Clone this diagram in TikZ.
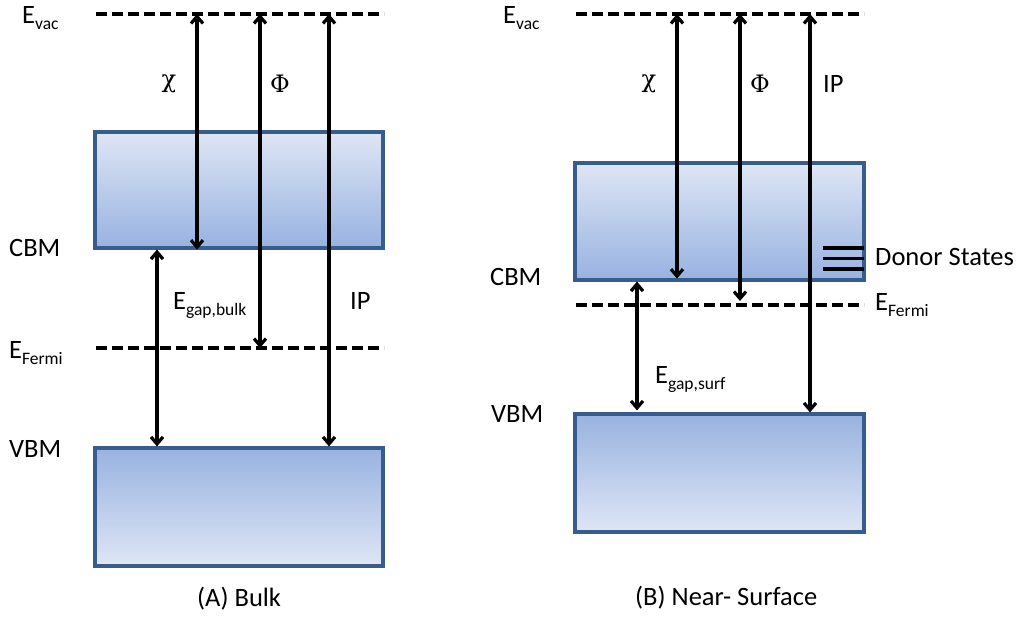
\documentclass[tikz,border=0pt]{standalone}
\usepackage{fontspec}
\setmainfont{Carlito}
\newfontfamily\greekfont{DejaVu Serif}
\usetikzlibrary{arrows.meta}
\definecolor{bandtop}{RGB}{222,230,245}
\definecolor{bandbot}{RGB}{152,178,224}
\definecolor{bandedge}{RGB}{56,92,140}
\newcommand{\sbs}[1]{\raisebox{-6pt}{\fontsize{17.5}{17.5}\selectfont #1}}
\begin{document}
\begin{tikzpicture}[x=1pt,y=-1pt,
  lbl/.style={inner sep=0pt,anchor=base west,font=\fontsize{26.5}{30}\selectfont},
  grk/.style={inner sep=0pt,anchor=center,font=\greekfont\fontsize{24}{28}\selectfont},
  cband/.style={draw=bandedge,line width=3.2pt,top color=bandtop,bottom color=bandbot,minimum width=288pt,inner sep=0pt},
  vband/.style={draw=bandedge,line width=3.2pt,top color=bandbot,bottom color=bandtop,minimum width=288pt,inner sep=0pt},
  level/.style={line width=3.2pt,dash pattern=on 10.5pt off 5.5pt},
  arr/.style={line width=3.2pt,{Straight Barb[length=7pt,width=12pt]}-{Straight Barb[length=7pt,width=12pt]}},
  donor/.style={line width=3.2pt}
]
\useasboundingbox (0,0) rectangle (1018,622);

% ---------------- Panel A ----------------
\node[cband,minimum height=116pt] (cbA) at (239,190) {};
\node[vband,minimum height=118pt] (vbA) at (239,507) {};
\coordinate (evacAw) at (96,14);  \coordinate (evacAe) at (384,14);
\coordinate (fermAw) at (96,348); \coordinate (fermAe) at (384,348);
\draw[level] (evacAw) -- (evacAe);
\draw[level] (fermAw) -- (fermAe);
\coordinate (xgA) at (157,0);
\coordinate (xcA) at (197,0);
\coordinate (xpA) at (260,0);
\coordinate (xiA) at (329,0);
\draw[arr] (xcA |- cbA.south) -- (xcA |- evacAw);
\draw[arr] (xpA |- fermAw) -- (xpA |- evacAw);
\draw[arr] (xiA |- vbA.north) -- (xiA |- evacAw);
\draw[arr] (xgA |- cbA.south) -- (xgA |- vbA.north);

\node[lbl] (evacAl) at (22,23) {E\sbs{vac}};
\node[lbl] (cbmAl) at (9,256) {CBM};
\node[lbl] (fermAl) at (9,358) {E\sbs{Fermi}};
\node[lbl] (vbmAl) at (9,457) {VBM};
\node[grk] (chiA) at (169,84) {χ};
\node[grk] (phiA) at (280,84) {Φ};
\node[lbl] (egA) at (173,309) {E\sbs{gap,bulk}};
\node[lbl] (ipA) at (350,309) {IP};
\node[lbl] (capA) at (197,606) {(A) Bulk};

% ---------------- Panel B ----------------
\node[cband,minimum height=117pt,minimum width=289pt] (cbB) at (719.5,221.5) {};
\node[vband,minimum height=118pt,minimum width=289pt] (vbB) at (719.5,473) {};
\coordinate (evacBw) at (576,14);  \coordinate (evacBe) at (864,14);
\coordinate (fermBw) at (576,305); \coordinate (fermBe) at (864,305);
\draw[level] (evacBw) -- (evacBe);
\draw[level] (fermBw) -- (fermBe);
\foreach \yy in {248,258.5,269} \draw[donor] (823,\yy) -- (864,\yy);
\coordinate (xgB) at (637,0);
\coordinate (xcB) at (677,0);
\coordinate (xpB) at (740,0);
\coordinate (xiB) at (810,0);
\draw[arr] ([yshift=3pt]xcB |- cbB.south) -- (xcB |- evacBw);
\draw[arr] ([yshift=4pt]xpB |- fermBw) -- (xpB |- evacBw);
\draw[arr] (xiB |- vbB.north) -- (xiB |- evacBw);
\draw[arr] (xgB |- cbB.south) -- ([yshift=2pt]xgB |- vbB.north);

\node[lbl] (evacBl) at (503,23) {E\sbs{vac}};
\node[lbl] (cbmBl) at (490,285) {CBM};
\node[lbl] (vbmBl) at (491,422) {VBM};
\node[lbl] (fermBl) at (875,310) {E\sbs{Fermi}};
\node[lbl] (donl) at (875,265) {Donor States};
\node[grk] (chiB) at (649,84) {χ};
\node[grk] (phiB) at (760,84) {Φ};
\node[lbl] (ipB) at (823,92) {IP};
\node[lbl] (egB) at (655,383) {E\sbs{gap,surf}};
\node[lbl] (capB) at (635,605) {(B) Near- Surface};
\end{tikzpicture}
\end{document}
